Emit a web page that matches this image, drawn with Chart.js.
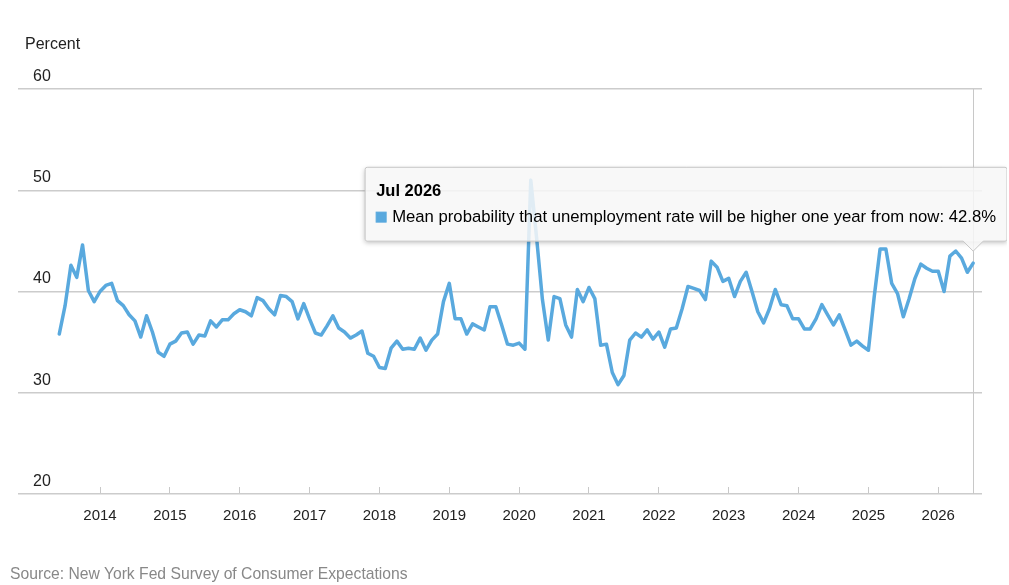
<!DOCTYPE html>
<html>
<head>
<meta charset="utf-8">
<script src="https://cdn.jsdelivr.net/npm/chart.js@4.4.1/dist/chart.umd.min.js"></script>
<style>
  body { margin: 0; background: #fff; font-family: Arial, "Liberation Sans", sans-serif; }
  #wrap { position: relative; width: 1007px; height: 585px; }
  #unit { position: absolute; left: 25px; top: 35px; font-size: 16px; color: #222; }
  #source { position: absolute; left: 10px; top: 565px; font-size: 15.7px; color: #888; }
</style>
</head>
<body>
<div id="wrap">
  <canvas id="chart" width="1007" height="585"></canvas>
  <div id="unit">Percent</div>
  <div id="source">Source: New York Fed Survey of Consumer Expectations</div>
</div>
<script>
// monthly series, first value is Jun 2013
var startYear = 2013, startMonth = 5;
var y2013 = [35.8, 38.6, 42.6, 41.4, 44.6, 40.1, 39.0];
var y2014 = [40.0, 40.6, 40.8, 39.1, 38.6, 37.7, 37.1, 35.5, 37.6, 36.0, 34.0, 33.6];
var y2015 = [34.8, 35.1, 35.9, 36.0, 34.8, 35.7, 35.6, 37.1, 36.5, 37.2, 37.2, 37.8];
var y2016 = [38.2, 38.0, 37.6, 39.4, 39.1, 38.3, 37.7, 39.6, 39.5, 39.0, 37.3, 38.8];
var y2017 = [37.3, 35.9, 35.7, 36.6, 37.6, 36.4, 36.0, 35.4, 35.7, 36.1, 33.9, 33.6];
var y2018 = [32.5, 32.4, 34.4, 35.1, 34.3, 34.4, 34.3, 35.4, 34.2, 35.2, 35.8, 39.0];
var y2019 = [40.8, 37.3, 37.3, 35.8, 36.8, 36.5, 36.2, 38.5, 38.5, 36.7, 34.8, 34.7];
var y2020 = [34.9, 34.3, 51.0, 45.3, 39.2, 35.2, 39.5, 39.3, 36.7, 35.5, 40.2, 39.0];
var y2021 = [40.4, 39.3, 34.7, 34.8, 32.0, 30.8, 31.7, 35.2, 35.9, 35.5, 36.2, 35.3];
var y2022 = [36.0, 34.5, 36.3, 36.4, 38.3, 40.5, 40.3, 40.1, 39.2, 43.0, 42.4, 41.0];
var y2023 = [41.3, 39.5, 41.0, 41.9, 40.0, 38.0, 36.9, 38.3, 40.2, 38.7, 38.6, 37.3];
var y2024 = [37.3, 36.3, 36.3, 37.3, 38.7, 37.7, 36.7, 37.7, 36.2, 34.7, 35.1, 34.6];
var y2025 = [34.2, 39.5, 44.2, 44.2, 40.8, 39.8, 37.5, 39.3, 41.3, 42.7, 42.3, 42.0];
var y2026 = [42.0, 40.0, 43.5, 44.0, 43.3, 41.9, 42.8];

var values = [].concat(y2013, y2014, y2015, y2016, y2017, y2018, y2019,
                       y2020, y2021, y2022, y2023, y2024, y2025, y2026);
var yearTicks = [2014, 2015, 2016, 2017, 2018, 2019, 2020, 2021, 2022, 2023, 2024, 2025, 2026];
var monthNames = ["Jan","Feb","Mar","Apr","May","Jun","Jul","Aug","Sep","Oct","Nov","Dec"];
var seriesName = "Mean probability that unemployment rate will be higher one year from now";

var lineColor = "#59a9de";
var fontFamily = 'Arial, "Liberation Sans", sans-serif';

var points = values.map(function (v, i) {
  return { x: startYear + (startMonth + i) / 12, y: v };
});

// vertical line at the hovered month
var crosshair = {
  id: "crosshair",
  beforeDatasetsDraw: function (chart) {
    var act = chart.tooltip.getActiveElements();
    if (!act.length) return;
    var x = Math.round(act[0].element.x) + 0.5;
    var a = chart.chartArea, ctx = chart.ctx;
    ctx.save();
    ctx.strokeStyle = "#c8c8c8";
    ctx.lineWidth = 1;
    ctx.beginPath();
    ctx.moveTo(x, a.top);
    ctx.lineTo(x, a.bottom);
    ctx.stroke();
    ctx.restore();
  }
};

// soft shadow under the tooltip box
var tipShadow = {
  id: "tipShadow",
  beforeTooltipDraw: function (chart, args) {
    var t = args.tooltip, ctx = chart.ctx;
    if (!t.opacity) return;
    var dpr = chart.currentDevicePixelRatio || 1;
    ctx.save();
    ctx.beginPath();
    ctx.rect(0, 0, chart.width, chart.height);
    ctx.rect(t.x, t.y, t.width, t.height);
    ctx.clip("evenodd");
    ctx.shadowColor = "rgba(0,0,0,0.28)";
    ctx.shadowBlur = 5;
    ctx.shadowOffsetX = 3000 * dpr;
    ctx.shadowOffsetY = 2 * dpr;
    ctx.fillStyle = "#000";
    ctx.fillRect(t.x - 3000, t.y, t.width, t.height);
    ctx.restore();
  }
};

var ctx = document.getElementById("chart").getContext("2d");
var chart = new Chart(ctx, {
  type: "line",
  data: {
    datasets: [{
      label: seriesName,
      data: points,
      borderColor: lineColor,
      backgroundColor: lineColor,
      borderWidth: 3.5,
      borderJoinStyle: "round",
      borderCapStyle: "round",
      pointRadius: 0,
      pointHoverRadius: 0,
      tension: 0,
      fill: false
    }]
  },
  options: {
    responsive: false,
    animation: false,
    events: [],
    layout: { padding: { top: 89, left: 3, right: 25, bottom: 60 } },
    plugins: {
      legend: { display: false },
      title: { display: false },
      tooltip: {
        enabled: true,
        xAlign: "center",
        yAlign: "bottom",
        backgroundColor: "rgba(247,247,247,0.86)",
        borderColor: "#c6c6c6",
        borderWidth: 1,
        cornerRadius: 2,
        caretSize: 10,
        caretPadding: 12,
        padding: { top: 14, bottom: 14, left: 11, right: 11 },
        titleColor: "#000",
        bodyColor: "#000",
        titleFont: { family: fontFamily, size: 16.5, weight: "bold" },
        bodyFont: { family: fontFamily, size: 16.7 },
        titleMarginBottom: 6,
        displayColors: true,
        multiKeyBackground: lineColor,
        boxWidth: 10,
        boxHeight: 10,
        boxPadding: 4,
        callbacks: {
          title: function (items) {
            var m = startMonth + items[0].dataIndex;
            return monthNames[m % 12] + " " + (startYear + Math.floor(m / 12));
          },
          label: function (item) {
            return item.dataset.label + ": " + item.parsed.y.toFixed(1) + "%";
          },
          labelColor: function () {
            return { borderColor: lineColor, backgroundColor: lineColor, borderWidth: 1 };
          }
        }
      }
    },
    scales: {
      x: {
        type: "linear",
        min: 2012.826,
        max: 2026.626,
        afterBuildTicks: function (scale) {
          scale.ticks = yearTicks.map(function (v) { return { value: v }; });
        },
        afterFit: function (scale) { scale.height = 31; },
        grid: {
          display: true,
          drawOnChartArea: false,
          drawTicks: true,
          tickLength: -7,
          color: "#c8c8c8",
          lineWidth: 1
        },
        border: { display: false },
        ticks: {
          autoSkip: false,
          maxRotation: 0,
          padding: 20,
          color: "#222",
          font: { family: fontFamily, size: 15 },
          callback: function (v) { return String(v); }
        }
      },
      y: {
        min: 20,
        max: 60,
        afterFit: function (scale) { scale.width = 15; },
        grid: { color: "#cccccc", lineWidth: 1.5, drawTicks: false },
        border: { display: false },
        ticks: {
          stepSize: 10,
          mirror: true,
          padding: 15,
          labelOffset: -12.5,
          color: "#222",
          font: { family: fontFamily, size: 16 }
        }
      }
    }
  },
  plugins: [crosshair, tipShadow]
});

var last = values.length - 1;
var pt = chart.getDatasetMeta(0).data[last];
chart.tooltip.setActiveElements([{ datasetIndex: 0, index: last }], { x: pt.x, y: pt.y });
chart.draw();
</script>
</body>
</html>
